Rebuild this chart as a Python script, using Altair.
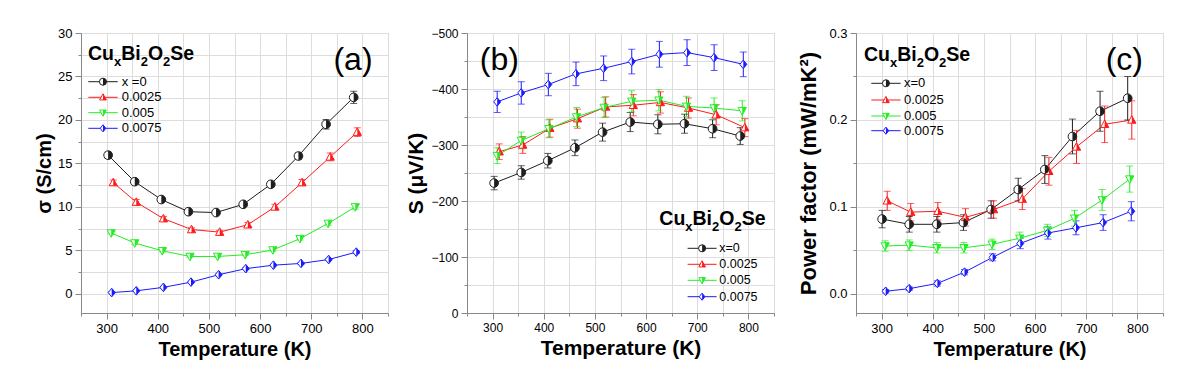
import altair as alt
import pandas as pd

FONT = "Liberation Sans"
SERIES = ["x=0", "0.0025", "0.005", "0.0075"]
COLORS = ["#1e1e1e", "#ff1a1a", "#22ee22", "#1a1aff"]
LEG_A = ["x =0", "0.0025", "0.005", "0.0075"]
LEG_BC = ["x=0", "0.0025", "0.005", "0.0075"]

# ---------------- panel (a): electrical conductivity (S/cm)
TA = [
    [303, 355, 407, 460, 514, 567, 621, 675, 729, 783],
    [313, 358, 411, 466, 521, 576, 629, 682, 737, 790],
    [309, 355, 409, 463, 517, 571, 625, 678, 733, 786],
    [310, 358, 411, 465, 519, 572, 626, 680, 734, 788],
]
SIG = [
    [15.95, 12.9, 10.85, 9.45, 9.35, 10.3, 12.6, 15.85, 19.5, 22.6],
    [12.8, 10.55, 8.65, 7.4, 7.1, 7.95, 10.0, 12.8, 15.75, 18.6],
    [7.0, 5.85, 4.95, 4.3, 4.3, 4.5, 5.05, 6.35, 8.1, 10.0],
    [0.15, 0.35, 0.75, 1.35, 2.2, 2.9, 3.3, 3.5, 3.95, 4.8],
]
SIG_ERR = [
    [0.35, 0.25, 0.25, 0.2, 0.2, 0.25, 0.3, 0.4, 0.55, 0.7],
    [0.3, 0.3, 0.25, 0.2, 0.2, 0.25, 0.3, 0.35, 0.45, 0.5],
    [0.15, 0.15, 0.12, 0.1, 0.1, 0.1, 0.12, 0.15, 0.2, 0.25],
    [0.08, 0.08, 0.08, 0.08, 0.1, 0.1, 0.1, 0.1, 0.12, 0.15],
]

# ---------------- panel (b): Seebeck coefficient (uV/K)
TB = [
    [303, 356, 408, 461, 515, 569, 623, 675, 730, 784],
    [313, 359, 412, 466, 521, 575, 628, 683, 737, 793],
    [309, 356, 410, 464, 518, 572, 625, 679, 733, 788],
    [309, 356, 409, 463, 517, 572, 626, 680, 733, 790],
]
SEE = [
    [-232, -251, -272, -295, -323, -341, -337, -338, -329, -316],
    [-288, -300, -330, -347, -368, -371, -376, -366, -354, -331],
    [-281, -308, -329, -350, -367, -378, -380, -369, -366, -361],
    [-377, -393, -408, -427, -437, -449, -462, -465, -456, -444],
]
SEE_ERR = [
    [12, 12, 13, 14, 16, 17, 17, 17, 16, 15],
    [14, 15, 16, 17, 18, 19, 19, 18, 18, 16],
    [14, 15, 16, 17, 18, 19, 19, 18, 18, 18],
    [19, 20, 20, 21, 22, 22, 23, 23, 23, 22],
]

# ---------------- panel (c): power factor (mW/mK^2)
TC = [
    [301, 354, 408, 460, 514, 567, 619, 673, 727, 781],
    [311, 357, 410, 464, 519, 575, 627, 681, 736, 789],
    [307, 354, 408, 461, 516, 570, 624, 677, 731, 785],
    [308, 354, 409, 462, 517, 571, 625, 680, 733, 788],
]
PF = [
    [0.086, 0.080, 0.080, 0.082, 0.097, 0.120, 0.143, 0.181, 0.210, 0.225],
    [0.107, 0.094, 0.095, 0.088, 0.097, 0.109, 0.141, 0.169, 0.195, 0.200],
    [0.055, 0.056, 0.053, 0.053, 0.057, 0.064, 0.073, 0.087, 0.108, 0.132],
    [0.003, 0.006, 0.012, 0.025, 0.042, 0.058, 0.070, 0.076, 0.082, 0.095],
]
PF_ERR = [
    [0.010, 0.009, 0.009, 0.009, 0.010, 0.013, 0.016, 0.020, 0.023, 0.025],
    [0.011, 0.010, 0.010, 0.010, 0.010, 0.012, 0.016, 0.019, 0.021, 0.022],
    [0.006, 0.006, 0.006, 0.006, 0.006, 0.007, 0.007, 0.009, 0.012, 0.015],
    [0.002, 0.002, 0.003, 0.003, 0.004, 0.006, 0.007, 0.008, 0.009, 0.011],
]

OUTLINE = ["circle", "M0,-1L0.95,0.75L-0.95,0.75Z", "M-0.95,-0.75L0.95,-0.75L0,1Z", "M0,-1L0.8,0L0,1L-0.8,0Z"]
HALF = ["M0,-1A1,1,0,0,1,0,1Z", "M0,-1L0.95,0.75L0,0.75Z", "M0,-0.75L0.95,-0.75L0,1Z", "M0,-1L0.8,0L0,1Z"]

W_PLOT, H_PLOT = 307, 280
ONE = pd.DataFrame({"k": [0]})
ADV = {"C": 0.722, "u": 0.611, "x": 0.556, "B": 0.722, "i": 0.278, "2": 0.556, "O": 0.778, "S": 0.667, "e": 0.556}
PIECES = [("Cu", False), ("x", True), ("Bi", False), ("2", True), ("O", False), ("2", True), ("Se", False)]


def make_df(Ts, Vs, Es):
    rows = []
    for s, T, V, E in zip(SERIES, Ts, Vs, Es):
        for t, v, e in zip(T, V, E):
            rows.append({"series": s, "T": t, "v": v, "lo": v - e, "hi": v + e})
    return pd.DataFrame(rows)


def formula(x0, y0, big=19.5, small=13):
    layers = []
    x = x0
    for txt, sub in PIECES:
        fs = small if sub else big
        layers.append(
            alt.Chart(ONE).mark_text(text=txt, font=FONT, fontSize=fs, fontWeight="bold",
                                     align="left", baseline="alphabetic", color="black")
            .encode(x=alt.value(x), y=alt.value(y0 + (6 if sub else 0)))
        )
        x += sum(ADV[c] for c in txt) * fs
    return layers


def legend(rows_y, x1, x2, xl, labels, fs):
    layers = []
    xm = (x1 + x2) / 2
    for i, yy in enumerate(rows_y):
        c = COLORS[i]
        layers.append(alt.Chart(ONE).mark_rule(color=c, strokeWidth=1)
                      .encode(x=alt.value(x1), x2=alt.value(x2), y=alt.value(yy)))
        layers.append(alt.Chart(ONE).mark_point(shape=OUTLINE[i], filled=False, fill="white", fillOpacity=1,
                                                color=c, size=50, strokeWidth=1, opacity=1)
                      .encode(x=alt.value(xm), y=alt.value(yy)))
        layers.append(alt.Chart(ONE).mark_point(shape=HALF[i], filled=True, color=c, size=50, opacity=1)
                      .encode(x=alt.value(xm), y=alt.value(yy)))
        layers.append(alt.Chart(ONE).mark_text(text=labels[i], font=FONT, fontSize=fs, align="left",
                                               baseline="middle", color="black")
                      .encode(x=alt.value(xl), y=alt.value(yy)))
    return layers


def panel(df, ydom, yvals, major_test, ylabel_expr, ytitle, ytitle_size, label_size,
          xtitle_size, ytitle_pad, annotations):
    xaxis = alt.Axis(
        values=list(range(250, 851, 50)),
        labelExpr="datum.value % 100 == 0 && datum.value >= 300 && datum.value <= 800 ? datum.label : ''",
        tickSize={"condition": {"test": "datum.value % 100 == 0", "value": 6}, "value": 3},
        title="Temperature (K)", titleFontSize=xtitle_size, labelFontSize=label_size,
        labelPadding=3, titlePadding=4,
    )
    yaxis = alt.Axis(
        values=yvals, labelExpr=ylabel_expr,
        tickSize={"condition": {"test": major_test, "value": 6}, "value": 3},
        title=ytitle, titleFontSize=ytitle_size, labelFontSize=label_size,
        labelPadding=3, titlePadding=ytitle_pad,
    )
    xs = alt.Scale(domain=[250, 850], nice=False, zero=False)
    ys = alt.Scale(domain=ydom, nice=False, zero=False)

    def X():
        return alt.X("T:Q", scale=xs, axis=xaxis)

    def Y(f):
        return alt.Y(f + ":Q", scale=ys, axis=yaxis)

    color = alt.Color("series:N", scale=alt.Scale(domain=SERIES, range=COLORS), legend=None)
    base = alt.Chart(df)
    line = base.mark_line(strokeWidth=1).encode(x=X(), y=Y("v"), color=color, detail="series:N")
    err = base.mark_rule(strokeWidth=1).encode(x=X(), y=Y("lo"), y2=alt.Y2("hi:Q"), color=color)
    cap_lo = base.mark_tick(orient="horizontal", size=7, thickness=1).encode(x=X(), y=Y("lo"), color=color)
    cap_hi = base.mark_tick(orient="horizontal", size=7, thickness=1).encode(x=X(), y=Y("hi"), color=color)
    outline = base.mark_point(filled=False, fill="white", fillOpacity=1, size=75, strokeWidth=1, opacity=1).encode(
        x=X(), y=Y("v"), color=color,
        shape=alt.Shape("series:N", scale=alt.Scale(domain=SERIES, range=OUTLINE), legend=None))
    half = base.mark_point(filled=True, size=75, opacity=1).encode(
        x=X(), y=Y("v"), color=color,
        shape=alt.Shape("series:N", scale=alt.Scale(domain=SERIES, range=HALF), legend=None))
    layers = [line, err, cap_lo, cap_hi, outline, half] + annotations
    return alt.layer(*layers).resolve_scale(shape="independent").properties(width=W_PLOT, height=H_PLOT)


def tag(txt, xc, yb):
    return alt.Chart(ONE).mark_text(text=txt, font=FONT, fontSize=32, align="center",
                                    baseline="alphabetic", color="black").encode(x=alt.value(xc), y=alt.value(yb))


ann_a = formula(7, 27) + [tag("(a)", 272, 37)] + legend([48.7, 64.3, 79.7, 95.3], 7.3, 36.7, 40.7, LEG_A, 13)
ann_b = formula(192.3, 192) + [tag("(b)", 32.3, 37)] + legend([215.3, 231.3, 247.3, 263.7], 220.6, 249.6, 252.3, LEG_BC, 12.5)
ann_c = formula(8, 27.7) + [tag("(c)", 268.3, 37)] + legend([50.3, 67, 83, 97.7], 15.3, 44.6, 48, LEG_BC, 13)

pa = panel(make_df(TA, SIG, SIG_ERR), [-2.2, 30], [v * 2.5 for v in range(0, 13)],
           "datum.value % 5 == 0", "datum.value % 5 == 0 ? datum.label : ''",
           "σ (S/cm)", 20, 13, 20, 3, ann_a)
pb = panel(make_df(TB, SEE, SEE_ERR), [0, -500], [-50 * k for k in range(0, 11)],
           "datum.value % 100 == 0", "datum.value % 100 == 0 ? datum.label : ''",
           "S (μV/K)", 21, 12, 21, 4, ann_b)
pc = panel(make_df(TC, PF, PF_ERR), [-0.022, 0.3], [round(0.05 * k, 2) for k in range(0, 7)],
           "abs(datum.value*10 - round(datum.value*10)) < 1e-6",
           "abs(datum.value*10 - round(datum.value*10)) < 1e-6 ? format(datum.value, '.1f') : ''",
           "Power factor (mW/mK²)", 22, 13, 20, 8, ann_c)

chart = alt.hconcat(pa, alt.hconcat(pb, pc, spacing=22), spacing=16).properties(
    padding={"left": 26, "top": 18, "right": 2, "bottom": 2}
).configure_view(stroke="black", strokeWidth=1.5).configure_axis(
    labelFont=FONT, labelFontWeight="bold", labelColor="black",
    titleFont=FONT, titleFontWeight="bold", titleColor="black",
    domainColor="black", domainWidth=1.5, tickColor="black", tickWidth=1.2,
    grid=False, labelOverlap=False, labelFlush=False,
).configure(background="white")

chart.save("out.html", embed_options={"renderer": "svg", "actions": False})
